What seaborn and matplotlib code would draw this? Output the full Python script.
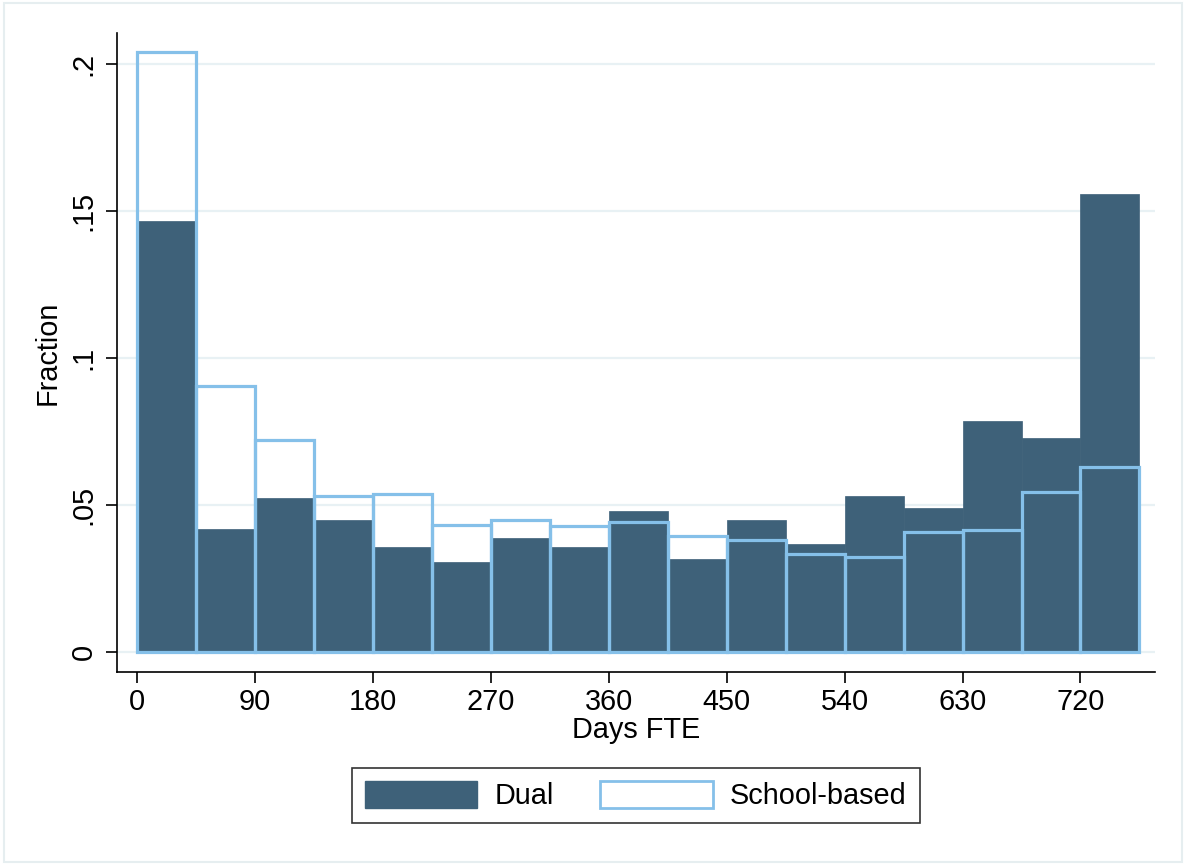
import numpy as np
import pandas as pd
import seaborn as sns
import matplotlib.pyplot as plt
import matplotlib.patches as mpatches

# bins of 45 days, 0 to 765
bin_edges = list(range(0, 766, 45))
bin_left = np.array(bin_edges[:-1])

dual_frac = [0.1466, 0.0418, 0.0524, 0.0449, 0.0357, 0.0306, 0.0388, 0.0357, 0.0480,
             0.0316, 0.0449, 0.0367, 0.0531, 0.0490, 0.0786, 0.0728, 0.1558]
school_frac = [0.2040, 0.0905, 0.0721, 0.0531, 0.0537, 0.0432, 0.0449, 0.0429, 0.0442,
               0.0395, 0.0381, 0.0333, 0.0323, 0.0408, 0.0415, 0.0544, 0.0629]

x_ticks = [0, 90, 180, 270, 360, 450, 540, 630, 720]
y_ticks = [0, 0.05, 0.1, 0.15, 0.2]
y_labels = ['0', '.05', '.1', '.15', '.2']

dark = '#3e6179'
light = '#85c0e9'
fs = 20.8

sns.set_style('white')
plt.rcParams['font.family'] = ['Liberation Sans', 'DejaVu Sans']
plt.rcParams['text.color'] = 'black'
plt.rcParams['axes.labelcolor'] = 'black'
plt.rcParams['xtick.color'] = 'black'
plt.rcParams['ytick.color'] = 'black'

dual_df = pd.DataFrame({'days': bin_left + 22.5, 'frac': dual_frac})
school_df = pd.DataFrame({'days': bin_left + 22.5, 'frac': school_frac})

fig = plt.figure(figsize=(11.86, 8.65), dpi=100, facecolor='white')
# faint outer frame like the Stata graph region
fig.add_artist(mpatches.Rectangle((0.003, 0.004), 0.994, 0.992, transform=fig.transFigure,
                                  fill=False, edgecolor='#e6eef0', linewidth=1.5))
ax = fig.add_axes([0.0987, 0.2231, 0.8753, 0.7387])

for y in y_ticks:
    ax.axhline(y, color='#e8f1f4', lw=1.6, zorder=0)

sns.histplot(data=dual_df, x='days', weights='frac', bins=bin_edges,
             color=dark, alpha=1, edgecolor=dark, linewidth=0.5, ax=ax, zorder=2)
sns.histplot(data=school_df, x='days', weights='frac', bins=bin_edges,
             fill=False, color=light, linewidth=2.3, ax=ax, zorder=3)

ax.set_xlim(-15.3, 777)
ax.set_ylim(-0.0068, 0.2105)
ax.set_xticks(x_ticks)
ax.set_yticks(y_ticks)
ax.set_yticklabels(y_labels, rotation=90, va='center')
ax.tick_params(axis='both', direction='out', length=8, width=1.2, labelsize=fs,
               left=True, bottom=True, colors='black')
ax.tick_params(axis='y', pad=6)
ax.set_xlabel('Days FTE', fontsize=fs, labelpad=0)
ax.set_ylabel('Fraction', fontsize=fs, labelpad=6)
ax.spines['right'].set_visible(False)
ax.spines['top'].set_visible(False)
for s in ['left', 'bottom']:
    ax.spines[s].set_color('black')
    ax.spines[s].set_linewidth(1.2)
ax.grid(False)

handles = [mpatches.Patch(facecolor=dark, edgecolor=dark, label='Dual'),
           mpatches.Patch(facecolor='white', edgecolor=light, linewidth=2, label='School-based')]
leg = fig.legend(handles=handles, loc='center', bbox_to_anchor=(0.536, 0.08), ncol=2,
                 fontsize=fs, frameon=True, fancybox=False, edgecolor='black',
                 handlelength=3.9, handleheight=1.05, handletextpad=0.6,
                 columnspacing=1.6, borderpad=0.45)
leg.get_frame().set_linewidth(1.2)

fig.savefig('out.png', dpi=100, facecolor='white')
